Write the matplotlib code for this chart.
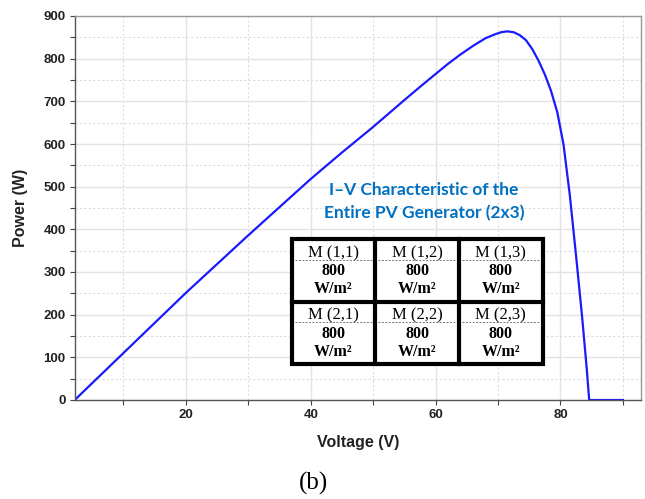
import matplotlib.pyplot as plt
from matplotlib.ticker import MultipleLocator
from matplotlib.patches import Rectangle
from matplotlib.lines import Line2D

# P-V curve
voltage = [2.2, 10, 20, 30, 40, 45, 50, 55, 58, 60, 62, 64, 66, 68, 69.5, 70.5,
           71.5, 72.5, 73.5, 74.5, 75.5, 76.5, 77.5, 78.5, 79.5, 80.5, 81.5,
           82.5, 83.5, 84.2, 84.6, 90]
power = [0, 110, 251, 386, 518, 580, 640, 703, 740, 764, 788, 810, 830, 848, 857, 862,
         864, 862, 855, 843, 822, 795, 763, 724, 674, 598, 480, 338, 190, 75, 0, 0]

modules = [["M (1,1)", "M (1,2)", "M (1,3)"],
           ["M (2,1)", "M (2,2)", "M (2,3)"]]
irradiance = "800"
unit = "W/m\u00b2"

W, H = 645, 499
fig = plt.figure(figsize=(W / 100, H / 100), dpi=100)
ax = fig.add_axes([74.7 / W, 1 - 400 / H, (641 - 74.7) / W, (400 - 16) / H])

ax.plot(voltage, power, color='#1a1aff', lw=1.6, solid_joinstyle='round')
ax.set_xlim(2.2, 92.9)
ax.set_ylim(0, 900)

ax.xaxis.set_major_locator(MultipleLocator(20))
ax.xaxis.set_minor_locator(MultipleLocator(10))
ax.yaxis.set_major_locator(MultipleLocator(100))
ax.yaxis.set_minor_locator(MultipleLocator(50))
ax.grid(which='major', color='#e3e3e3', lw=1.0, ls='-')
ax.grid(which='minor', color='#dcdcdc', lw=0.8, ls=(0, (2, 2)))
ax.set_axisbelow(True)

ax.tick_params(which='both', direction='out', length=3.5, width=0.8, color='#444444')
ax.tick_params(which='major', labelsize=9.5, pad=3)
for lab in ax.get_xticklabels() + ax.get_yticklabels():
    lab.set_fontweight('bold')
    lab.set_family('Liberation Sans')
    lab.set_color('#222222')

for s in ['left', 'bottom']:
    ax.spines[s].set_color('#555555')
    ax.spines[s].set_linewidth(1.0)
for s in ['top', 'right']:
    ax.spines[s].set_color('#999999')
    ax.spines[s].set_linewidth(1.0)

ax.set_xlabel('Voltage (V)', fontsize=11.5, fontweight='bold', family='Liberation Sans',
              labelpad=10, color='#222222')
ax.set_ylabel('Power (W)', fontsize=11.5, fontweight='bold', family='Liberation Sans',
              labelpad=11, color='#222222')


def px(x, y):
    return x / W, 1 - y / H


# annotation title
fig.text(*px(424, 190), 'I\u2013V Characteristic of the', ha='center', va='center',
         fontsize=12.5, fontweight='bold', family='Lato', color='#0070C0')
fig.text(*px(424, 213), 'Entire PV Generator (2x3)', ha='center', va='center',
         fontsize=12.5, fontweight='bold', family='Lato', color='#0070C0')

# module table
left, right, top, bottom = 291.7, 542.5, 239, 364
cw = (right - left) / 3
rh = (bottom - top) / 2
x0, y0 = px(left, bottom)
fig.patches.append(Rectangle((x0, y0), (right - left) / W, (bottom - top) / H,
                             transform=fig.transFigure, facecolor='white',
                             edgecolor='black', lw=3.0, zorder=5))
for i in range(1, 3):
    fig.lines.append(Line2D([(left + i * cw) / W] * 2, [1 - top / H, 1 - bottom / H],
                            transform=fig.transFigure, color='black', lw=3.0, zorder=6))
fig.lines.append(Line2D([left / W, right / W], [1 - (top + rh) / H] * 2,
                        transform=fig.transFigure, color='black', lw=3.0, zorder=6))

for r in range(2):
    for c in range(3):
        cx = left + (c + 0.5) * cw
        ty = top + r * rh
        fig.text(*px(cx, ty + 14), modules[r][c], ha='center', va='center',
                 fontsize=12, family='Liberation Serif', zorder=7)
        fig.lines.append(Line2D([(cx - cw / 2 + 3) / W, (cx + cw / 2 - 3) / W],
                                [1 - (ty + 20.5) / H] * 2, transform=fig.transFigure,
                                color='#777777', lw=0.7, ls=(0, (2, 1.5)), zorder=7))
        fig.text(*px(cx, ty + 32), irradiance, ha='center', va='center',
                 fontsize=11.5, fontweight='bold', family='Liberation Serif', zorder=7)
        fig.text(*px(cx, ty + 50), unit, ha='center', va='center',
                 fontsize=11.5, fontweight='bold', family='Liberation Serif', zorder=7)

fig.text(*px(313, 483), '(b)', ha='center', va='center', fontsize=18,
         family='Liberation Serif')

fig.savefig('out.png', dpi=100)
